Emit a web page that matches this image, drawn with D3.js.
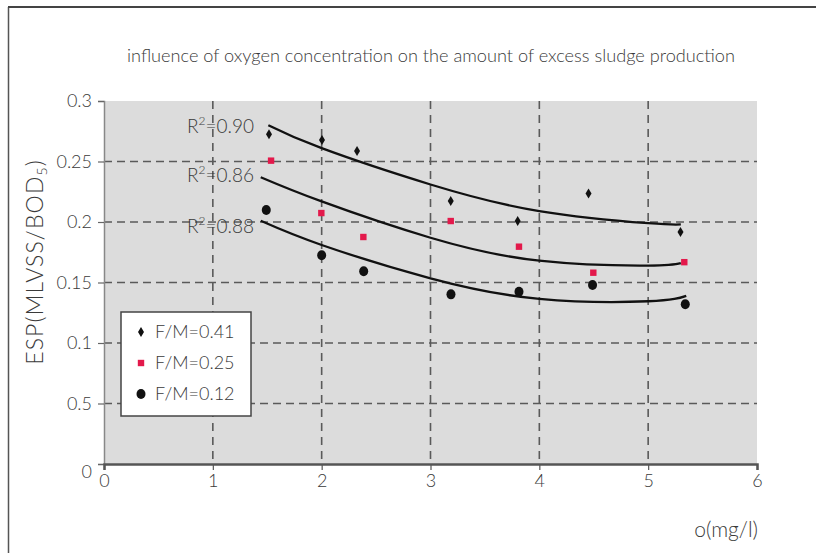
<!DOCTYPE html>
<html><head><meta charset="utf-8">
<script src="https://cdn.jsdelivr.net/npm/d3@7"></script>
<style>
html,body{margin:0;padding:0;background:#fff;}
svg{display:block;}
text{font-family:Lato,"DejaVu Sans",sans-serif;fill:#3a3a3a;font-weight:300;}
</style></head>
<body><svg id="c" width="816" height="553"></svg>
<script>
const titleText = "influence of oxygen concentration on the amount of excess sludge production";
const xTicks = [0,1,2,3,4,5,6];
const yTicks = [0,0.05,0.1,0.15,0.2,0.25,0.3];
const yTickLabels = ["0","0.5","0.1","0.15","0.2","0.25","0.3"];
const seriesNames = ["F/M=0.41","F/M=0.25","F/M=0.12"];
const oxygen41 = [1.516,2.003,2.325,3.186,3.801,4.452,5.297];
const esp41    = [0.2725,0.2678,0.2587,0.2174,0.2008,0.2236,0.1917];
const oxygen25 = [1.535,1.997,2.383,3.186,3.813,4.496,5.332];
const esp25    = [0.2507,0.2074,0.1876,0.2008,0.1796,0.1581,0.1668];
const oxygen12 = [1.491,2.0,2.386,3.188,3.813,4.489,5.341];
const esp12    = [0.2099,0.1725,0.1593,0.1402,0.1424,0.1479,0.1320];
const trendX41 = [1.51,2,3,4,5,5.3];
const trendY41 = [0.280,0.261,0.231,0.209,0.199,0.198];
const trendX25 = [1.44,2,3,4,5,5.3];
const trendY25 = [0.237,0.217,0.187,0.168,0.164,0.166];
const trendX12 = [1.44,2,3,4,5,5.35];
const trendY12 = [0.201,0.181,0.1535,0.1365,0.1345,0.139];
const r2Labels = ["0.90","0.86","0.88"];

const svg = d3.select("#c");
const L=104, R=757, T=101, B=464;
const x = d3.scaleLinear().domain([0,6]).range([L,R]);
const y = d3.scaleLinear().domain([0,0.3]).range([B,T]);

// outer frame
svg.append("line").attr("x1",8.5).attr("y1",7).attr("x2",8.5).attr("y2",553).attr("stroke","#555").attr("stroke-width",1.5);
svg.append("line").attr("x1",8).attr("y1",7).attr("x2",816).attr("y2",7).attr("stroke","#444").attr("stroke-width",2);

// title
svg.append("text").attr("x",431).attr("y",62).attr("text-anchor","middle")
  .attr("font-size",17).attr("textLength",608).attr("lengthAdjust","spacingAndGlyphs").text(titleText);

// plot bg
svg.append("rect").attr("x",L).attr("y",T).attr("width",R-L).attr("height",B-T).attr("fill","#dcdcdc");

// grid
svg.append("g").selectAll("line").data(xTicks.filter(d=>d>0&&d<6)).join("line")
  .attr("x1",d=>x(d)).attr("x2",d=>x(d)).attr("y1",T).attr("y2",B)
  .attr("stroke","#5a5a5a").attr("stroke-width",1.6).attr("stroke-dasharray","8,6");
svg.append("g").selectAll("line").data(yTicks.filter(d=>d>0&&d<0.3)).join("line")
  .attr("x1",L).attr("x2",R).attr("y1",d=>y(d)).attr("y2",d=>y(d))
  .attr("stroke","#5a5a5a").attr("stroke-width",1.6).attr("stroke-dasharray","8,5");

// axes
const yAxis = d3.axisLeft(y).tickValues(yTicks).tickSize(6).tickPadding(6).tickFormat((d,i)=>yTickLabels[i]);
const gy = svg.append("g").attr("transform",`translate(${L},0)`).call(yAxis);
gy.select(".domain").attr("stroke","#888").attr("stroke-width",1.5);
gy.selectAll(".tick line").attr("stroke","#666").attr("stroke-width",1.2);
gy.selectAll(".tick text").attr("font-size",18).attr("font-family","Lato").attr("fill","#444");
gy.selectAll(".tick text").filter(d=>d===0).attr("dy","0.75em");

const xAxis = d3.axisBottom(x).tickValues(xTicks).tickSize(6).tickPadding(4).tickFormat(d3.format("d"));
const gx = svg.append("g").attr("transform",`translate(0,${B})`).call(xAxis);
gx.select(".domain").attr("stroke","#555").attr("stroke-width",2.5);
gx.selectAll(".tick line").attr("stroke","#555").attr("stroke-width",1.2);
gx.selectAll(".tick text").attr("font-size",18).attr("font-family","Lato").attr("fill","#444");

// axis titles
const yl = svg.append("text").attr("transform","translate(43,262) rotate(-90)").attr("text-anchor","middle")
  .attr("font-size",23).attr("letter-spacing",1.1);
yl.append("tspan").text("ESP(MLVSS/BOD");
yl.append("tspan").attr("font-size",14).attr("dy",4).text("5");
yl.append("tspan").attr("dy",-4).text(")");
svg.append("text").attr("x",758).attr("y",537).attr("text-anchor","end").attr("font-size",21).text("o(mg/l)");

// trend lines
const line = d3.line().x(d=>x(d[0])).y(d=>y(d[1])).curve(d3.curveNatural);
const trends = [[trendX41,trendY41],[trendX25,trendY25],[trendX12,trendY12]];
trends.forEach(([tx,ty])=>{
  svg.append("path").datum(tx.map((v,i)=>[v,ty[i]])).attr("d",line)
    .attr("fill","none").attr("stroke","#111").attr("stroke-width",2.3);
});

// R2 labels
const r2Off = [8,5,12];
trends.forEach(([tx,ty],i)=>{
  const t = svg.append("text").attr("x",187).attr("y",y(ty[0])+r2Off[i]).attr("font-size",19).attr("fill","#444");
  t.append("tspan").text("R");
  t.append("tspan").attr("font-size",12).attr("dy",-8).text("2");
  t.append("tspan").attr("dy",8).text("=" + r2Labels[i]);
});

// markers
const diamondPath = "M0,-5L3,0L0,5L-3,0Z";
function drawDiamond(g,cx,cy){ g.append("path").attr("d",diamondPath).attr("transform",`translate(${cx},${cy})`).attr("fill","#111"); }
function drawSquare(g,cx,cy){ g.append("rect").attr("x",cx-3.2).attr("y",cy-3.2).attr("width",6.4).attr("height",6.4).attr("fill","#e3194b"); }
function drawCircle(g,cx,cy){ g.append("ellipse").attr("cx",cx).attr("cy",cy).attr("rx",4.5).attr("ry",5).attr("fill","#111"); }

const pts = svg.append("g");
oxygen41.forEach((v,i)=>drawDiamond(pts,x(v),y(esp41[i])));
oxygen25.forEach((v,i)=>drawSquare(pts,x(v),y(esp25[i])));
oxygen12.forEach((v,i)=>drawCircle(pts,x(v),y(esp12[i])));

// legend
const lg = svg.append("g");
lg.append("rect").attr("x",121).attr("y",312).attr("width",130).attr("height",104).attr("fill","#fff").attr("stroke","#444").attr("stroke-width",1.5);
const rowY = [332,363,394];
const drawers = [drawDiamond,drawSquare,drawCircle];
seriesNames.forEach((n,i)=>{
  drawers[i](lg,141,rowY[i]);
  lg.append("text").attr("x",155).attr("y",rowY[i]).attr("dy","0.36em").attr("font-size",18).text(n);
});
</script></body></html>
